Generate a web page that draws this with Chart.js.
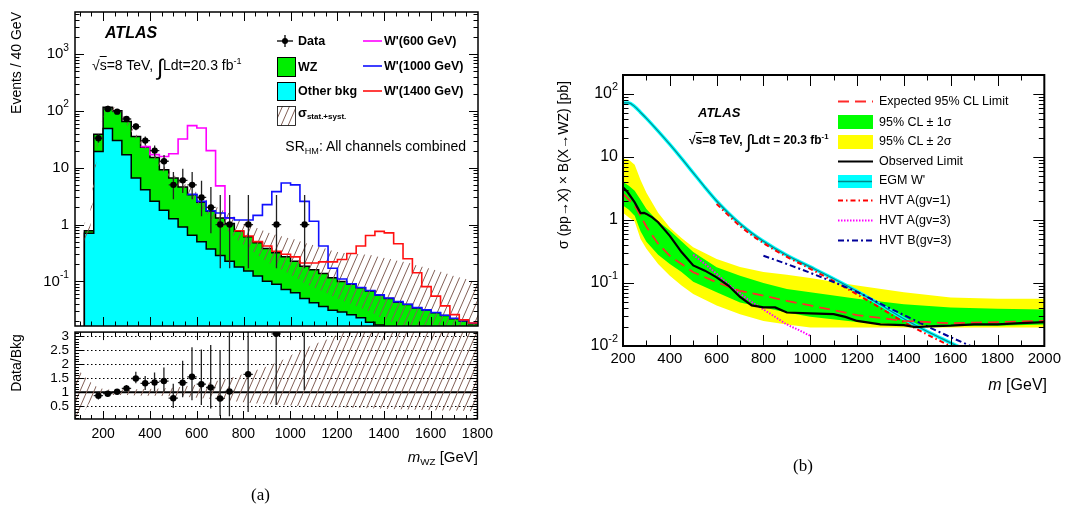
<!DOCTYPE html>
<html>
<head>
<meta charset="utf-8">
<script src="https://cdn.jsdelivr.net/npm/chart.js@4.4.1/dist/chart.umd.min.js"></script>
<style>
  body { margin: 0; background: #fff; width: 1065px; height: 506px; position: relative; overflow: hidden;
         font-family: "Liberation Sans", Arial, Helvetica, sans-serif; color: #000; }
  canvas { position: absolute; }
  .t { position: absolute; white-space: nowrap; line-height: 1; }
  .b { font-weight: bold; }
  sub { font-size: 0.65em; vertical-align: -0.3em; line-height: 0; }
  sup { font-size: 0.65em; vertical-align: 0.65em; line-height: 0; }
  .rot { transform: rotate(-90deg); }
  .int { font-size: 1.6em; vertical-align: -0.22em; line-height: 0; font-weight: normal; }
  .ov { text-decoration: overline; }
  svg { position: absolute; left: 0; top: 0; }
</style>
</head>
<body>
<canvas id="mainA" width="500" height="330" style="left:0;top:0"></canvas>
<canvas id="ratioA" width="500" height="141" style="left:0;top:318px"></canvas>
<canvas id="limitB" width="525" height="320" style="left:540px;top:60px"></canvas>

<svg width="1065" height="506">
  <defs>
    <pattern id="hatch" width="7" height="16" patternUnits="userSpaceOnUse">
      <path d="M0,16 L7,0 M-7,16 L0,0 M7,16 L14,0" stroke="rgb(130,95,85)" stroke-width="1"/>
    </pattern>
  </defs>
  <!-- legend (a) -->
  <line x1="277" y1="41" x2="293" y2="41" stroke="#000" stroke-width="1.3"/>
  <line x1="285" y1="35" x2="285" y2="47" stroke="#000" stroke-width="1.3"/>
  <circle cx="285" cy="41" r="3" fill="#000"/>
  <rect x="277.5" y="57.5" width="18" height="19" fill="#00ee00" stroke="#000"/>
  <rect x="277.5" y="82.5" width="18" height="18" fill="#00ffff" stroke="#000"/>
  <rect x="277.5" y="106.5" width="18" height="19" fill="url(#hatch)" stroke="#000" stroke-width="0.8"/>
  <line x1="363" y1="41" x2="382" y2="41" stroke="#ff00ff" stroke-width="1.6"/>
  <line x1="363" y1="66" x2="382" y2="66" stroke="#1010ff" stroke-width="1.6"/>
  <line x1="363" y1="91" x2="382" y2="91" stroke="#ff1010" stroke-width="1.6"/>
  <!-- legend (b) -->
  <line x1="838" y1="101.5" x2="873" y2="101.5" stroke="#ff2a2a" stroke-width="1.8" stroke-dasharray="11,6"/>
  <rect x="838" y="115" width="35" height="14" fill="#00ff00"/>
  <rect x="838" y="135" width="35" height="14" fill="#ffff00"/>
  <line x1="838" y1="161.5" x2="873" y2="161.5" stroke="#000" stroke-width="2"/>
  <rect x="838" y="175" width="34" height="13" fill="#00ffff"/>
  <line x1="838" y1="181.5" x2="872" y2="181.5" stroke="#008c8c" stroke-width="1.3"/>
  <line x1="838" y1="200.5" x2="873" y2="200.5" stroke="#ff0000" stroke-width="2" stroke-dasharray="5,3,1.5,3"/>
  <line x1="838" y1="220.5" x2="873" y2="220.5" stroke="#ff00ff" stroke-width="2" stroke-dasharray="1.5,1.5"/>
  <line x1="838" y1="240.5" x2="873" y2="240.5" stroke="#000099" stroke-width="2" stroke-dasharray="6,3,2,3"/>
</svg>

<!-- panel (a) texts -->
<div class="t rot" style="left:-64px;top:85px;width:160px;text-align:right;font-size:14px;">Events / 40 GeV</div>
<div class="t rot" style="left:-24px;top:356px;width:80px;text-align:center;font-size:14px;">Data/Bkg</div>
<div class="t b" style="left:105px;top:25px;font-size:16px;font-style:italic;">ATLAS</div>
<div class="t" style="left:92px;top:58px;font-size:14px;">√<span class="ov">s</span>=8 TeV, <span class="int">∫</span>Ldt=20.3 fb<sup>-1</sup></div>
<div class="t b" style="left:298px;top:35px;font-size:12.5px;">Data</div>
<div class="t b" style="left:298px;top:61px;font-size:12.5px;">WZ</div>
<div class="t b" style="left:298px;top:85px;font-size:12.5px;">Other bkg</div>
<div class="t b" style="left:298px;top:106px;font-size:13px;">σ<sub style="font-size:8px">stat.+syst.</sub></div>
<div class="t b" style="left:384px;top:35px;font-size:12.5px;">W'(600 GeV)</div>
<div class="t b" style="left:384px;top:60px;font-size:12.5px;">W'(1000 GeV)</div>
<div class="t b" style="left:384px;top:85px;font-size:12.5px;">W'(1400 GeV)</div>
<div class="t" style="right:599px;top:139px;font-size:14px;">SR<sub>HM</sub>: All channels combined</div>
<div class="t" style="right:587px;top:449px;font-size:15px;"><i>m</i><sub>WZ</sub> [GeV]</div>
<div class="t" style="left:251px;top:486px;font-size:17px;font-family:'Liberation Serif','Times New Roman',serif;">(a)</div>

<!-- panel (b) texts -->
<div class="t rot" style="left:453px;top:158px;width:220px;text-align:center;font-size:14px;">σ (pp→X) × B(X→WZ) [pb]</div>
<div class="t b" style="left:698px;top:106px;font-size:13px;font-style:italic;">ATLAS</div>
<div class="t b" style="left:689px;top:134px;font-size:12px;">√<span class="ov">s</span>=8 TeV, <span class="int">∫</span>Ldt = 20.3 fb<sup>-1</sup></div>
<div class="t" style="left:879px;top:95px;font-size:12.5px;">Expected 95% CL Limit</div>
<div class="t" style="left:879px;top:116px;font-size:12.5px;">95% CL ± 1σ</div>
<div class="t" style="left:879px;top:135px;font-size:12.5px;">95% CL ± 2σ</div>
<div class="t" style="left:879px;top:155px;font-size:12.5px;">Observed Limit</div>
<div class="t" style="left:879px;top:174px;font-size:12.5px;">EGM W'</div>
<div class="t" style="left:879px;top:194px;font-size:12.5px;">HVT A(gv=1)</div>
<div class="t" style="left:879px;top:214px;font-size:12.5px;">HVT A(gv=3)</div>
<div class="t" style="left:879px;top:234px;font-size:12.5px;">HVT B(gv=3)</div>
<div class="t" style="right:18px;top:377px;font-size:16px;"><i>m</i> [GeV]</div>
<div class="t" style="left:793px;top:457px;font-size:17px;font-family:'Liberation Serif','Times New Roman',serif;">(b)</div>

<script>
// ---------- panel (a): m_WZ distribution ----------
const binEdges = [120,160,200,240,280,320,360,400,440,480,520,560,600,640,680,720,760,800,840,880,
                  920,960,1000,1040,1080,1120,1160,1200,1240,1280,1320,1360,1400,1440,1480,1520,1560,
                  1600,1640,1680,1720,1760,1800];
// WZ + other bkg (stack top)
const totalBkg = [0.78,39,116,101,65,35.5,23,15.2,9.2,6.6,4.6,3.36,2.46,1.71,1.31,1.04,0.76,0.61,0.48,0.38,
                  0.32,0.27,0.227,0.185,0.16,0.138,0.116,0.10,0.089,0.077,0.068,0.057,0.05,0.043,0.039,
                  0.034,0.031,0.028,0.025,0.022,0.020,0.018];
const otherBkg = [0.70,19.3,49,30,16.9,6.6,4.1,2.56,1.78,1.26,0.91,0.65,0.50,0.37,0.286,0.227,0.18,0.152,
                  0.124,0.101,0.089,0.072,0.063,0.05,0.042,0.036,0.031,0.029,0.026,0.023,0.019,0.017,0.015,
                  0.013,0.012,0.011,0.0095,0.0085,0.0075,0.0067,0.006,0.0053];
// bkg + signal, starting at the given bin edge
const wp600Start = 360;
const wp600Total = [23.5,17,15.8,17.6,32,55,50,20,4.8,1.3];
const wp1000Start = 560;
const wp1000Total = [3.4,2.56,1.75,1.6,1.31,1.2,1.2,1.45,2.24,3.8,5.4,5.0,2.56,1.14,0.42,0.17,0.11,0.091,
                     0.078,0.069,0.058,0.051,0.044,0.0395,0.0345,0.0315,0.0284,0.0254,0.0224,0.0203,0.0183];
const wp1400Start = 760;
const wp1400Total = [0.78,0.63,0.50,0.42,0.34,0.30,0.27,0.21,0.21,0.22,0.22,0.243,0.31,0.42,0.64,0.76,0.715,
                     0.46,0.25,0.142,0.081,0.055,0.037,0.026,0.021,0.0185];

const dataMass   = [180,220,260,300,340,380,420,460,500,540,580,620,660,700,740,820,940,1060];
const dataEvents = [33,108,97,72,53,30,20,13,5,6,5,3,2,1,1,1,1,1];
const dataLow    = [27.5,98,87,63.5,45.7,24.6,15.6,9.4,2.8,3.6,2.8,1.4,0.7,0.17,0.17,0.17,0.17,0.17];
const dataHigh   = [39,118,107,80.5,60.3,35.5,24.5,16.7,8.4,9.6,8.4,5.9,4.6,3.3,3.3,3.3,3.3,3.3];

const ratioVal  = [0.88,0.95,1.02,1.14,1.49,1.32,1.35,1.40,0.79,1.34,1.55,1.29,1.17,0.78,1.03,1.64,3.08,5.4];
const ratioLow  = [0.74,0.87,0.96,1.05,1.32,1.08,1.05,1.02,0.44,0.82,0.72,0.55,0.42,0.16,0.15,0.30,0.55,1.08];
const ratioHigh = [1.02,1.03,1.08,1.26,1.73,1.58,1.70,1.88,1.30,2.12,2.60,2.52,2.68,2.50,3.3,5.4,10.3,18];

// stat+syst band, relative to total bkg, at bin centres
const bandMass = [100,140,180,220,260,300,340,380,420,460,500,540,580,620,660,700,740,780,820,860,900,940,
                  980,1020,1060,1100,1140,1180,1220,1260,1300,1340,1380,1420,1460,1500,1540,1580,1620,1660,
                  1700,1740,1780];
const bandUp   = [1.75,1.4,1.15,1.1,1.1,1.1,1.11,1.12,1.13,1.14,1.16,1.2,1.25,1.3,1.36,1.43,1.5,1.6,1.7,1.8,
                  1.92,2.05,2.2,2.4,2.55,2.7,2.82,2.95,3.15,3.5,3.9,4.3,4.7,5.0,5.3,5.5,5.6,5.6,5.6,5.6,5.6,5.6,5.6];
const bandDown = [0.05,0.6,0.85,0.9,0.9,0.9,0.89,0.88,0.88,0.87,0.86,0.84,0.82,0.79,0.76,0.73,0.7,0.66,0.63,
                  0.6,0.58,0.56,0.54,0.52,0.5,0.49,0.48,0.47,0.46,0.45,0.44,0.43,0.42,0.41,0.4,0.39,0.38,0.37,
                  0.36,0.35,0.35,0.34,0.33];

const xTicksA = [200,400,600,800,1000,1200,1400,1600,1800];
const yTicksA = [0.1,1,10,100,1000];
const yBaseA  = ['10','1','10','10','10'];
const yExpA   = ['-1','','','2','3'];
const ratioTicks  = [0.5,1,1.5,2,2.5,3];
const ratioLabels = ['0.5','1','1.5','2','2.5','3'];

// ---------- panel (b): limits ----------
const limMass   = [200,225,250,275,300,350,400,450,500,600,700,800,900,1000,1200,1400,1600,1800,2000];
const expected  = [2.6,2.1,1.7,1.17,0.78,0.42,0.27,0.2,0.148,0.103,0.075,0.063,0.052,0.044,0.031,0.025,0.023,0.024,0.025];
const sigma1Lo  = [1.7,1.45,1.17,0.66,0.45,0.28,0.2,0.15,0.105,0.071,0.049,0.041,0.034,0.029,0.024,0.022,0.021,0.021,0.022];
const sigma1Hi  = [4.0,3.5,2.9,2.1,1.5,0.95,0.68,0.46,0.31,0.177,0.13,0.10,0.08,0.071,0.056,0.046,0.041,0.039,0.038];
const sigma2Lo  = [1.3,1.1,0.95,0.5,0.35,0.2,0.13,0.091,0.067,0.044,0.032,0.025,0.022,0.0197,0.0197,0.0197,0.0197,0.0197,0.0197];
const sigma2Hi  = [9.5,9.0,7.5,4.3,2.7,1.3,0.76,0.52,0.37,0.24,0.18,0.15,0.135,0.12,0.091,0.071,0.059,0.056,0.056];

const obsMass  = [200,220,250,275,290,300,325,350,400,450,500,550,600,650,700,750,800,850,900,1000,1100,
                  1150,1200,1300,1400,1450,1500,1600,1700,1800,1900,2000];
const observed = [3.3,2.75,1.9,1.29,1.3,1.25,1.1,0.92,0.56,0.31,0.19,0.157,0.123,0.091,0.06,0.044,0.041,
                  0.041,0.034,0.033,0.032,0.029,0.025,0.022,0.0215,0.02,0.0205,0.021,0.022,0.022,0.023,0.024];

const egmMass = [200,225,250,275,300,350,400,450,500,550,600,650,700,750,800,900,1000,1100,1200,1300,1400,1500,1600,1700];
const egmXsec = [72,72,63,51,41,25.7,15.8,9.5,5.6,3.3,2.0,1.29,0.87,0.62,0.46,0.275,0.18,0.117,0.074,0.045,0.027,0.017,0.0112,0.0074];
const hvtA1Mass = [600,700,800,900,1000,1100,1200,1300,1400,1500,1600,1700];
const hvtA1Xsec = [1.8,0.8,0.43,0.26,0.168,0.107,0.066,0.04,0.024,0.0152,0.0099,0.0066];
const hvtA3Mass = [500,550,600,650,700,750,800,850,900,950,1000];
const hvtA3Xsec = [0.28,0.2,0.14,0.095,0.068,0.05,0.038,0.029,0.022,0.018,0.0145];
const hvtBMass  = [800,900,1000,1100,1200,1300,1400,1500,1600,1700,1760];
const hvtBXsec  = [0.27,0.2,0.145,0.103,0.072,0.047,0.031,0.0205,0.0138,0.0095,0.0078];

const xTicksB = [200,400,600,800,1000,1200,1400,1600,1800,2000];
const yTicksB = [0.01,0.1,1,10,100];
const yBaseB  = ['10','10','1','10','10'];
const yExpB   = ['-2','-1','','','2'];

// ---------- helpers ----------
const FONT = '"Liberation Sans", Arial, Helvetica, sans-serif';
Chart.defaults.font.family = FONT;
Chart.defaults.color = '#000';

const pts = (xs, ys) => xs.map((x, i) => ({ x, y: ys[i] }));

function stepPoints(start, vals) {
  const i0 = binEdges.indexOf(start);
  const p = vals.map((v, i) => ({ x: binEdges[i0 + i], y: v }));
  p.push({ x: binEdges[i0 + vals.length], y: vals[vals.length - 1] });
  return p;
}
function histPoints(vals) {
  return [{ x: binEdges[0], y: 1e-4 }].concat(stepPoints(binEdges[0], vals));
}
function logMinor(lo, hi) {
  const out = [];
  for (let d = lo; d <= hi; d++) for (let k = 2; k <= 9; k++) out.push(k * Math.pow(10, d));
  return out;
}
function range(a, b, s) { const o = []; for (let v = a; v <= b + 1e-9; v += s) o.push(+v.toFixed(3)); return o; }

function hatchPattern() {
  const c = document.createElement('canvas');
  c.width = 7; c.height = 16;
  const g = c.getContext('2d');
  g.strokeStyle = 'rgb(130,95,85)';
  g.lineWidth = 1;
  g.beginPath();
  g.moveTo(0, 16); g.lineTo(7, 0);
  g.moveTo(-7, 16); g.lineTo(0, 0);
  g.moveTo(7, 16); g.lineTo(14, 0);
  g.stroke();
  return g.createPattern(c, 'repeat');
}
const HATCH = hatchPattern();

const errorBars = {
  id: 'errorBars',
  beforeDatasetDraw(chart, args) {
    const ds = chart.data.datasets[args.index];
    if (!ds.errLow) return;
    const { ctx, chartArea: a, scales: { x, y } } = chart;
    ctx.save();
    ctx.beginPath(); ctx.rect(a.left, a.top, a.right - a.left, a.bottom - a.top); ctx.clip();
    ctx.strokeStyle = '#222'; ctx.lineWidth = 1.3;
    ds.data.forEach((p, i) => {
      const px = x.getPixelForValue(p.x), py = y.getPixelForValue(p.y);
      ctx.beginPath();
      ctx.moveTo(px, y.getPixelForValue(ds.errLow[i]));
      ctx.lineTo(px, y.getPixelForValue(ds.errHigh[i]));
      ctx.moveTo(x.getPixelForValue(p.x - 20), py);
      ctx.lineTo(x.getPixelForValue(p.x + 20), py);
      ctx.stroke();
    });
    ctx.restore();
  }
};

const frame = {
  id: 'frame',
  beforeDatasetsDraw(chart, args, o) {
    const { ctx, chartArea: a, scales: { y } } = chart;
    ctx.save();
    ctx.strokeStyle = '#000';
    if (o.grid) {
      ctx.lineWidth = 1; ctx.setLineDash([1.5, 2.5]);
      o.grid.forEach(v => {
        const py = Math.round(y.getPixelForValue(v)) + 0.5;
        ctx.beginPath(); ctx.moveTo(a.left, py); ctx.lineTo(a.right, py); ctx.stroke();
      });
      ctx.setLineDash([]);
    }
    if (o.unity !== undefined) {
      ctx.lineWidth = 2;
      const py = y.getPixelForValue(o.unity);
      ctx.beginPath(); ctx.moveTo(a.left, py); ctx.lineTo(a.right, py); ctx.stroke();
    }
    ctx.restore();
  },
  afterDatasetsDraw(chart, args, o) {
    const { ctx, chartArea: a, scales: { x, y } } = chart;
    ctx.save();
    ctx.strokeStyle = '#000'; ctx.lineWidth = 1;
    const seg = (x1, y1, x2, y2) => { ctx.beginPath(); ctx.moveTo(x1, y1); ctx.lineTo(x2, y2); ctx.stroke(); };
    const xt = (vals, len) => vals.forEach(v => {
      if (v <= x.min || v >= x.max) return;
      const px = Math.round(x.getPixelForValue(v)) + 0.5;
      seg(px, a.bottom, px, a.bottom - len); seg(px, a.top, px, a.top + len);
    });
    const yt = (vals, len) => vals.forEach(v => {
      if (v <= y.min || v >= y.max) return;
      const py = Math.round(y.getPixelForValue(v)) + 0.5;
      seg(a.left, py, a.left + len, py); seg(a.right, py, a.right - len, py);
    });
    xt(o.xMajor, o.len); xt(o.xMinor, o.len / 2);
    yt(o.yMajor, o.len); yt(o.yMinor, o.len / 2);
    ctx.lineWidth = o.lw;
    ctx.strokeRect(a.left, a.top, a.right - a.left, a.bottom - a.top);
    if (o.base) {
      ctx.fillStyle = '#000'; ctx.textBaseline = 'middle'; ctx.textAlign = 'left';
      o.yMajor.forEach((v, i) => {
        const py = y.getPixelForValue(v);
        ctx.font = o.fs + 'px ' + FONT;
        const wb = ctx.measureText(o.base[i]).width;
        let we = 0;
        if (o.exp[i]) { ctx.font = (o.fs * 0.68) + 'px ' + FONT; we = ctx.measureText(o.exp[i]).width; }
        const xr = a.left - o.pad;
        ctx.font = o.fs + 'px ' + FONT;
        ctx.fillText(o.base[i], xr - wb - we, py);
        if (o.exp[i]) { ctx.font = (o.fs * 0.68) + 'px ' + FONT; ctx.fillText(o.exp[i], xr - we, py - o.fs * 0.42); }
      });
    }
    ctx.restore();
  }
};

const base = {
  responsive: false, animation: false, events: [], devicePixelRatio: 1,
};
const noPlug = { legend: { display: false }, tooltip: { enabled: false } };
const line = (data, color, width, extra) => Object.assign({
  data, borderColor: color, borderWidth: width, pointRadius: 0, fill: false
}, extra || {});

// ---------- chart (a) top ----------
const hatchUpA = [{ x: 120, y: totalBkg[0] * bandUp[1] }]
  .concat(totalBkg.map((b, i) => ({ x: bandMass[i + 1], y: b * bandUp[i + 1] })))
  .concat([{ x: 1800, y: totalBkg[41] * bandUp[42] }]);
const hatchDownA = [{ x: 120, y: totalBkg[0] * bandDown[1] }]
  .concat(totalBkg.map((b, i) => ({ x: bandMass[i + 1], y: b * bandDown[i + 1] })))
  .concat([{ x: 1800, y: totalBkg[41] * bandDown[42] }]);

new Chart(document.getElementById('mainA'), {
  type: 'line',
  data: {
    datasets: [
      line(histPoints(totalBkg), '#000', 1.5, { stepped: true, fill: 'start', backgroundColor: '#00ee00', order: 6 }),
      line(histPoints(otherBkg), '#000', 1.5, { stepped: true, fill: 'start', backgroundColor: '#00ffff', order: 5 }),
      line(hatchUpA, 'transparent', 0, { fill: '+1', backgroundColor: HATCH, order: 4 }),
      line(hatchDownA, 'transparent', 0, { order: 4 }),
      line(stepPoints(wp600Start, wp600Total), '#ff00ff', 1.6, { stepped: true, order: 3 }),
      line(stepPoints(wp1000Start, wp1000Total), '#1010ff', 1.6, { stepped: true, order: 2 }),
      line(stepPoints(wp1400Start, wp1400Total), '#ff1010', 1.6, { stepped: true, order: 1 }),
      { data: pts(dataMass, dataEvents), showLine: false, pointRadius: 3.2, pointBackgroundColor: '#000',
        pointBorderWidth: 0, errLow: dataLow, errHigh: dataHigh, order: 0 }
    ]
  },
  options: Object.assign({}, base, {
    layout: { padding: { left: 0, right: 22, top: 12, bottom: 3 } },
    scales: {
      x: { type: 'linear', min: 80, max: 1800, display: false },
      y: { type: 'logarithmic', min: 0.0164, max: 5500, ticks: { display: false },
           grid: { display: false, drawTicks: false }, border: { display: false },
           afterFit: s => { s.width = 75; } }
    },
    plugins: Object.assign({}, noPlug, {
      frame: { xMajor: xTicksA, xMinor: range(100, 1750, 50), yMajor: yTicksA, yMinor: logMinor(-2, 3),
               len: 9, lw: 1.5, base: yBaseA, exp: yExpA, fs: 15, pad: 6 }
    })
  }),
  plugins: [errorBars, frame]
});

// ---------- chart (a) ratio ----------
const ratioBandUp = [{ x: 80, y: bandUp[0] }].concat(pts(bandMass, bandUp), [{ x: 1800, y: bandUp[42] }]);
const ratioBandDown = [{ x: 80, y: bandDown[0] }].concat(pts(bandMass, bandDown), [{ x: 1800, y: bandDown[42] }]);

new Chart(document.getElementById('ratioA'), {
  type: 'line',
  data: {
    datasets: [
      line(ratioBandUp, 'transparent', 0, { fill: '+1', backgroundColor: HATCH, order: 2 }),
      line(ratioBandDown, 'transparent', 0, { order: 2 }),
      { data: pts(dataMass, ratioVal), showLine: false, pointRadius: 3.2, pointBackgroundColor: '#000',
        pointBorderWidth: 0, errLow: ratioLow, errHigh: ratioHigh, order: 0 }
    ]
  },
  options: Object.assign({}, base, {
    layout: { padding: { left: 0, right: 22, top: 13, bottom: 0 } },
    scales: {
      x: { type: 'linear', min: 80, max: 1800,
           afterBuildTicks: s => { s.ticks = xTicksA.map(v => ({ value: v })); },
           ticks: { font: { size: 14 }, padding: 7, maxRotation: 0, autoSkip: false, callback: v => String(v) },
           grid: { display: false, drawTicks: false }, border: { display: false },
           afterFit: s => { s.height = 40; } },
      y: { type: 'linear', min: 0.05, max: 3.14,
           afterBuildTicks: s => { s.ticks = ratioTicks.map(v => ({ value: v })); },
           ticks: { font: { size: 13.5 }, padding: 6, autoSkip: false, callback: (v, i) => ratioLabels[i] },
           grid: { display: false, drawTicks: false }, border: { display: false },
           afterFit: s => { s.width = 75; } }
    },
    plugins: Object.assign({}, noPlug, {
      frame: { xMajor: xTicksA, xMinor: range(100, 1750, 50), yMajor: ratioTicks, yMinor: range(0.1, 3.1, 0.1),
               len: 8, lw: 1.5, grid: [0.5, 1.5, 2, 2.5, 3], unity: 1 }
    })
  }),
  plugins: [errorBars, frame]
});

// ---------- chart (b) ----------
new Chart(document.getElementById('limitB'), {
  type: 'line',
  data: {
    datasets: [
      line(pts(limMass, sigma2Hi), 'transparent', 0, { fill: '+1', backgroundColor: '#ffff00', order: 10 }),
      line(pts(limMass, sigma2Lo), 'transparent', 0, { order: 10 }),
      line(pts(limMass, sigma1Hi), 'transparent', 0, { fill: '+1', backgroundColor: '#00ff00', order: 9 }),
      line(pts(limMass, sigma1Lo), 'transparent', 0, { order: 9 }),
      line(pts(egmMass, egmXsec), '#00ffff', 3.5, { cubicInterpolationMode: 'monotone', order: 8 }),
      line(pts(egmMass, egmXsec), '#008c8c', 1.2, { cubicInterpolationMode: 'monotone', order: 7 }),
      line(pts(hvtA1Mass, hvtA1Xsec), '#ff0000', 2, { borderDash: [5, 3, 1.5, 3], cubicInterpolationMode: 'monotone', order: 6 }),
      line(pts(hvtA3Mass, hvtA3Xsec), '#ff00ff', 2, { borderDash: [1.5, 1.5], cubicInterpolationMode: 'monotone', order: 5 }),
      line(pts(hvtBMass, hvtBXsec), '#000099', 2, { borderDash: [6, 3, 2, 3], cubicInterpolationMode: 'monotone', order: 4 }),
      line(pts(limMass, expected), '#ff2a2a', 1.8, { borderDash: [11, 6], order: 2 }),
      line(pts(obsMass, observed), '#000', 2.2, { order: 1 })
    ]
  },
  options: Object.assign({}, base, {
    layout: { padding: { left: 0, right: 18, top: 15, bottom: 0 } },
    scales: {
      x: { type: 'linear', min: 200, max: 2000,
           afterBuildTicks: s => { s.ticks = xTicksB.map(v => ({ value: v })); },
           ticks: { font: { size: 15 }, padding: 4, maxRotation: 0, autoSkip: false, callback: v => String(v) },
           grid: { display: false, drawTicks: false }, border: { display: false },
           afterFit: s => { s.height = 34; } },
      y: { type: 'logarithmic', min: 0.01, max: 200, ticks: { display: false },
           grid: { display: false, drawTicks: false }, border: { display: false },
           afterFit: s => { s.width = 83; } }
    },
    plugins: Object.assign({}, noPlug, {
      frame: { xMajor: xTicksB, xMinor: range(300, 1900, 200), yMajor: yTicksB, yMinor: logMinor(-2, 2),
               len: 11, lw: 2, base: yBaseB, exp: yExpB, fs: 16, pad: 5 }
    })
  }),
  plugins: [frame]
});
</script>
</body>
</html>
